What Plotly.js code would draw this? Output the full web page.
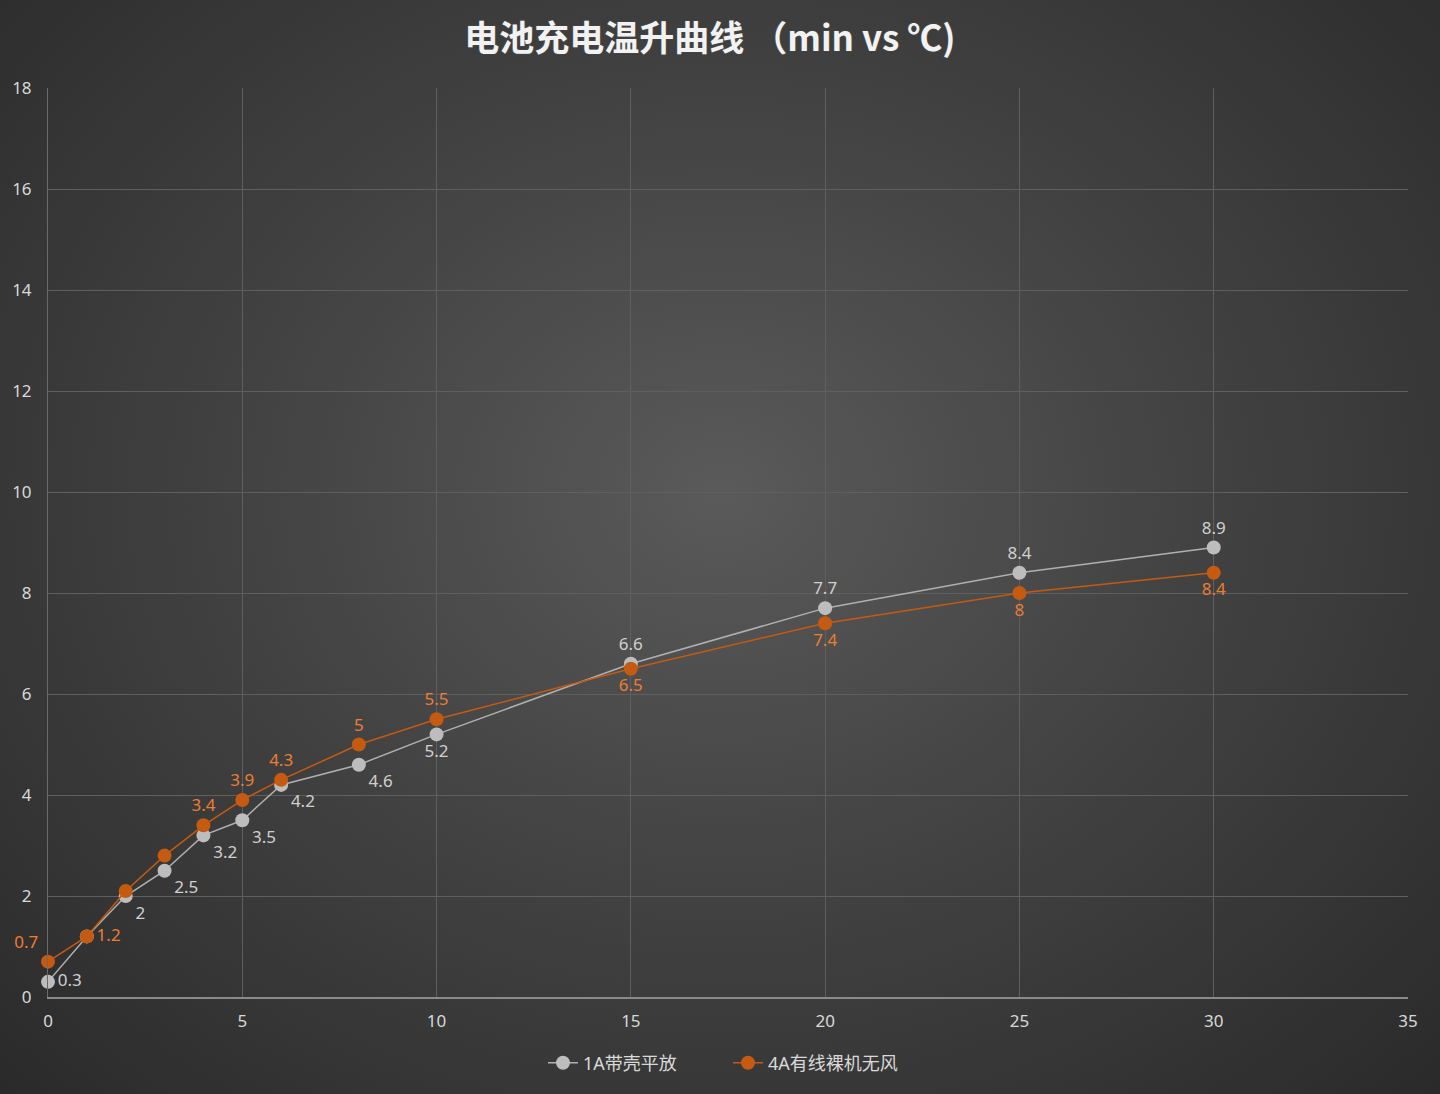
<!DOCTYPE html>
<html>
<head>
<meta charset="utf-8">
<script src="https://cdn.plot.ly/plotly-3.0.1.min.js"></script>
<style>
  html, body { margin: 0; padding: 0; }
  #chart {
    width: 1440px; height: 1094px;
    background: radial-gradient(ellipse at 50% 45%, #5a5a5a 0%, #434343 45%, #2a2a2a 100%);
  }
</style>
</head>
<body>
<div id="chart"></div>
<script>
// minutes
var x_min = [0, 1, 2, 3, 4, 5, 6, 8, 10, 15, 20, 25, 30];

// 1A带壳平放
var y_1a = [0.3, 1.2, 2, 2.5, 3.2, 3.5, 4.2, 4.6, 5.2, 6.6, 7.7, 8.4, 8.9];
var show_1a = [1, 0, 1, 1, 1, 1, 1, 1, 1, 1, 1, 1, 1];
var pos_1a = ['middle right', 'top center', 'bottom right', 'bottom right', 'bottom right',
  'bottom right', 'bottom right', 'bottom right', 'bottom center', 'top center',
  'top center', 'top center', 'top center'];

// 4A有线裸机无风
var y_4a = [0.7, 1.2, 2.1, 2.8, 3.4, 3.9, 4.3, 5, 5.5, 6.5, 7.4, 8, 8.4];
var show_4a = [1, 1, 0, 0, 1, 1, 1, 1, 1, 1, 1, 1, 1];
var pos_4a = ['top left', 'middle right', 'top center', 'top center', 'top center',
  'top center', 'top center', 'top center', 'top center', 'bottom center',
  'bottom center', 'bottom center', 'bottom center'];

function labels(vals, show) {
  return vals.map(function (v, i) { return show[i] ? String(v) : ''; });
}

var baseFont = '"Noto Sans", "Noto Sans CJK SC", sans-serif';

var trace_1a = {
  x: x_min,
  y: y_1a,
  mode: 'lines+markers+text',
  type: 'scatter',
  name: '1A带壳平放',
  text: labels(y_1a, show_1a),
  textposition: pos_1a,
  textfont: { family: baseFont, size: 17, color: '#d0d0d0' },
  line: { color: '#b0b0b0', width: 1.5 },
  marker: { color: '#bdbdbd', size: 14 },
  cliponaxis: false
};

var trace_4a = {
  x: x_min,
  y: y_4a,
  mode: 'lines+markers+text',
  type: 'scatter',
  name: '4A有线裸机无风',
  text: labels(y_4a, show_4a),
  textposition: pos_4a,
  textfont: { family: baseFont, size: 17, color: '#ed7d31' },
  line: { color: '#c55a11', width: 1.5 },
  marker: { color: '#c55a11', size: 14 },
  cliponaxis: false
};

var layout = {
  width: 1440,
  height: 1094,
  paper_bgcolor: 'rgba(0,0,0,0)',
  plot_bgcolor: 'rgba(0,0,0,0)',
  font: { family: baseFont, color: '#d9d9d9', size: 17 },
  title: {
    text: '<b>电池充电温升曲线 （min vs ℃)</b>',
    font: { family: '"Noto Sans CJK SC", "Noto Sans", sans-serif', size: 35, color: '#f2f2f2', shadow: 'auto' },
    x: 0.493, xanchor: 'center', y: 0.965, yanchor: 'middle'
  },
  margin: { l: 48, r: 32, t: 88, b: 97 },
  showlegend: true,
  legend: {
    orientation: 'h',
    x: 0.5, xanchor: 'center',
    y: -0.0726, yanchor: 'middle',
    font: { family: baseFont, size: 18, color: '#d9d9d9' },
    entrywidth: 140
  },
  xaxis: {
    range: [0, 35],
    dtick: 5,
    showgrid: true,
    gridcolor: '#5f5f5f',
    gridwidth: 1,
    zeroline: false,
    showline: true,
    linecolor: '#8a8a8a',
    linewidth: 1.5,
    ticks: '',
    ticklabelstandoff: 8,
    tickfont: { size: 17, color: '#d9d9d9' },
    automargin: false
  },
  yaxis: {
    range: [0, 18],
    dtick: 2,
    showgrid: true,
    gridcolor: '#5f5f5f',
    gridwidth: 1,
    zeroline: false,
    showline: true,
    linecolor: '#6a6a6a',
    linewidth: 1,
    ticks: '',
    ticklabelstandoff: 12,
    tickfont: { size: 17, color: '#d9d9d9' },
    automargin: false
  }
};

Plotly.newPlot('chart', [trace_1a, trace_4a], layout, { displayModeBar: false });
</script>
</body>
</html>
